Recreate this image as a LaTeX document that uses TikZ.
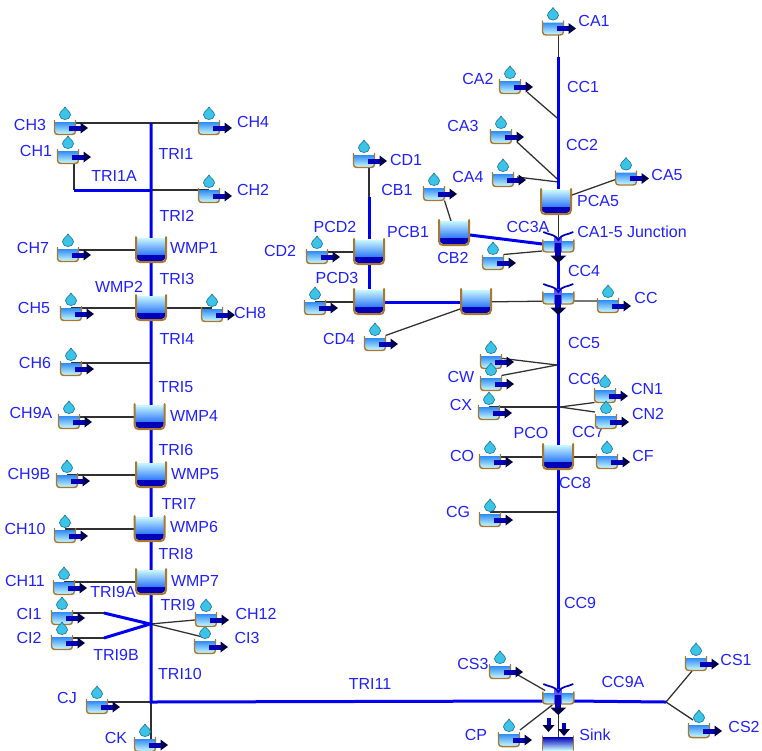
\documentclass[tikz,border=0pt]{standalone}
\usepackage{fontspec}
\setmainfont{Liberation Sans}
\usetikzlibrary{calc}
\pgfdeclarelayer{front}
\pgfsetlayers{main,front}
\definecolor{rivblue}{HTML}{0000F0}
\definecolor{thinline}{HTML}{303030}
\definecolor{lblblue}{HTML}{2020FF}
\definecolor{basinedge}{HTML}{A87830}
\definecolor{navyb}{HTML}{0000B8}
\definecolor{lightb}{HTML}{C8F8FF}
\definecolor{midb}{HTML}{2F8CF5}
\definecolor{dropc}{HTML}{3CC4E8}
\definecolor{dropd}{HTML}{207898}
\tikzset{
 x=0.75pt,y=-0.75pt,
 river/.style={draw=rivblue,line width=2.25pt},
 thin link/.style={draw=thinline,line width=0.95pt},
 lbl/.style={text=lblblue,font=\fontsize{12}{14}\selectfont,inner sep=0pt},
 catchbox/.style={minimum width=15.75pt,minimum height=11.25pt,inner sep=0pt,outer sep=0pt},
 resbox/.style={minimum width=24pt,minimum height=19.5pt,inner sep=0pt,outer sep=0pt},
 edge line/.style={draw=basinedge,line width=1.1pt,line cap=round,line join=round},
}
% catchment icon: name, drop x, drop y
\newcommand\catch[3]{%
 \begin{pgfonlayer}{front}
 \begin{scope}[shift={(#2,#3+14)}]
  \node[catchbox] (#1) at (0,0) {};
  \shade[top color=midb,bottom color=lightb] (-10,-5) -- (-10,4) -- (-7,7) -- (7,7) -- (10,4) -- (10,-5) -- cycle;
  \draw[edge line] (-10.5,-6.5) -- (-10.5,4) .. controls (-10.5,6.5) and (-9,7.5) .. (-7,7.5) -- (7,7.5) .. controls (9,7.5) and (10.5,6.5) .. (10.5,4) -- (10.5,-6.5);
  \draw[fill=dropc,draw=dropd,line width=0.5pt] (0,-20) .. controls (-1,-17.5) and (-5.5,-15.5) .. (-5.5,-12) .. controls (-5.5,-9) and (-2.5,-7.5) .. (0,-7.5) .. controls (2.5,-7.5) and (5.5,-9) .. (5.5,-12) .. controls (5.5,-15.5) and (1,-17.5) .. (0,-20) -- cycle;
  \fill[navyb] (4,-1.5) rectangle (17,3.5);
  \fill[black!60!navyb] (15.5,-4.5) -- (23,1) -- (15.5,6.5) -- cycle;
 \end{scope}
 \end{pgfonlayer}}
% reservoir icon: name, centre x, centre y
\newcommand\resv[3]{%
 \begin{pgfonlayer}{front}
 \begin{scope}[shift={(#2,#3)}]
  \node[resbox] (#1) at (0,0) {};
  \shade[top color=lightb,middle color=midb!60!cyan!80!white,bottom color=midb!80!blue] (-14,-12) rectangle (14,6);
  \fill[navyb] (-14,5) -- (14,5) -- (14,9) -- (11,11) -- (-11,11) -- (-14,9) -- cycle;
  \draw[edge line,line width=1.5pt] (-15,-13) -- (-15,8) .. controls (-15,11) and (-13,12) .. (-11,12) -- (11,12) .. controls (13,12) and (15,11) .. (15,8) -- (15,-13);
 \end{scope}
 \end{pgfonlayer}}
% junction icon: name, centre x, centre y
\newcommand\junc[3]{%
 \begin{pgfonlayer}{front}
 \begin{scope}[shift={(#2,#3)}]
  \node[catchbox,minimum width=24pt] (#1) at (0,0) {};
  \shade[top color=midb,bottom color=lightb] (-15,-5) -- (-15,5) -- (15,5) -- (15,-5) -- cycle;
  \draw[edge line] (-15.5,-6) -- (-15.5,3) .. controls (-15.5,5) and (-14,6) .. (-12,6) -- (12,6) .. controls (14,6) and (15.5,5) .. (15.5,3) -- (15.5,-6);
  \fill[rivblue!65!white] (-4,-9) rectangle (4,6);
  \fill[navyb] (-3,-3) rectangle (3,11);
  \fill[black!60!navyb] (-8,9.5) -- (8,9.5) -- (0,17) -- cycle;
  \draw[navyb,line width=1.3pt] (-15,-14) .. controls (-9,-11) and (-3,-12) .. (0,-6) .. controls (3,-12) and (9,-11) .. (15,-14);
 \end{scope}
 \end{pgfonlayer}}
\newcommand\lab[3]{\node[lbl] (L#1) at (#2,#3) {#1};}
\begin{document}
\begin{tikzpicture}
\useasboundingbox (0,0) rectangle (762,750);
% catchments
\catch{CA1}{553}{13.5}\catch{CA2}{510}{72}\catch{CA3}{501}{122}\catch{CA4}{503}{165}\catch{CA5}{626}{163.5}
\catch{CH3}{65}{113}\catch{CH4}{209}{113}\catch{CH1}{68}{142}\catch{CH2}{209}{181}
\catch{CH7}{68}{240}\catch{CH5}{71}{299}\catch{CH8}{212}{300}\catch{CH6}{71}{354}
\catch{CH9A}{69}{407}\catch{CH9B}{67}{466}\catch{CH10}{65}{521}\catch{CH11}{64}{573}
\catch{CI1}{62}{603}\catch{CI2}{62}{628}\catch{CI3}{205}{632}\catch{CH12}{206}{605}
\catch{CJ}{97}{692}\catch{CK}{145}{730}
\catch{CD1}{364}{146}\catch{CB1}{434}{179}\catch{CD2}{317}{242}\catch{CDx}{315}{293}\catch{CD4}{375}{329}
\catch{CAx}{493}{248}\catch{CC}{608}{291}
\catch{CWa}{491}{347}\catch{CWb}{491}{369}\catch{CX}{489}{398}\catch{CN1}{605}{381}\catch{CN2}{606}{407}
\catch{CO}{490}{447}\catch{CF}{607}{447}\catch{CG}{490}{505}
\catch{CS3}{500}{657}\catch{CP}{509}{725}\catch{CS1}{696}{649}\catch{CS2}{699}{716}
% reservoirs
\resv{WMP1}{151}{250}\resv{WMP2}{151}{308}\resv{WMP4}{149.5}{417}\resv{WMP5}{151}{475}\resv{WMP6}{149.5}{529}\resv{WMP7}{151}{582}
\resv{PCD2}{369}{252}\resv{PCD3}{369}{302}\resv{PCB1}{454}{233}\resv{PCX}{476}{302}\resv{PCA5}{556}{202}\resv{PCO}{558}{457}
% junctions
\junc{J1}{558.3}{246}\junc{J2}{558.3}{298}\junc{J3}{558.3}{698}
% sink
\begin{pgfonlayer}{front}
 \node[resbox,minimum height=10pt] (Sink) at (558,743) {};
 \shade[top color=navyb,middle color=midb,bottom color=lightb] (543,737) rectangle (573,750);
 \draw[edge line] (542.5,750) -- (542.5,736) (573.5,750) -- (573.5,736);
 \fill[navyb] (546.5,718) rectangle (550.5,726);
 \fill[black!60!navyb] (542.5,725) -- (554.5,725) -- (548.5,732) -- cycle;
 \fill[navyb] (562,723) rectangle (566,730);
 \fill[black!60!navyb] (558,729) -- (570,729) -- (564,736) -- cycle;
\end{pgfonlayer}
% free junction points
\coordinate (ptA) at (558.3,119);
\coordinate (ptB) at (558.3,180);
\coordinate (ptC) at (558.3,182);
\coordinate (t0) at (151,123);
\coordinate (t1) at (151,190);
\coordinate (t1a) at (74,190);
\coordinate (t6) at (151,363);
\coordinate (tx) at (150,624);
\coordinate (ti1) at (104,613);
\coordinate (ti2) at (104,638);
\coordinate (tj) at (151,702);
\coordinate (j3w) at (545,701);
\coordinate (j3e) at (572,701);
\coordinate (j2y) at (558.3,301);
\coordinate (cw) at (557,365);
\coordinate (cx) at (558.3,407);
\coordinate (cn) at (560,407);
\coordinate (cg) at (558.3,512);
\coordinate (cs) at (666,702);
\coordinate (cd) at (369,197);
\coordinate (c0) at (558.3,57);
% thin links
\draw[thin link] (CH3 |- t0) -- (t0) -- (t0 -| CH4);
\draw[thin link] (t1a |- CH1) -- (t1a);
\draw[thin link] (t1) -- (t1 -| CH2);
\draw[thin link] (CH7 |- WMP1) -- (WMP1);
\draw[thin link] (CH5 |- WMP2) -- (WMP2) -- (WMP2 -| CH8);
\draw[thin link] (CH6 |- t6) -- (t6);
\draw[thin link] (CH9A |- WMP4) -- (WMP4);
\draw[thin link] (CH9B |- WMP5) -- (WMP5);
\draw[thin link] (CH10 |- WMP6) -- (WMP6);
\draw[thin link] (CH11 |- WMP7) -- (WMP7);
\draw[thin link] (CI1 |- ti1) -- (ti1);
\draw[thin link] (CI2 |- ti2) -- (ti2);
\draw[thin link] (tx) -- (CH12);
\draw[thin link] (tx) -- ($(CI3)+(-2,-9)$);
\draw[thin link] (CJ |- tj) -- (tj);
\draw[thin link] (tj) -- (tj |- CK);
\draw[thin link] (cd |- CD1) -- (cd);
\draw[thin link] (CB1.south east) -- ($(PCB1.north)+(-3,1)$);
\draw[thin link] (CD2 |- PCD2) -- (PCD2);
\draw[thin link] (CDx |- PCD3) -- (PCD3);
\draw[thin link] (PCX) -- (j2y) -- (j2y -| CC);
\draw[thin link] (CD4.north east) -- ($(PCX.west)+(0,7)$);
\draw[thin link] (c0 |- CA1) -- (c0);
\draw[thin link] ($(CA2)+(17,6)$) -- (ptA);
\draw[thin link] ($(CA3)+(16,6)$) -- (ptB);
\draw[thin link] ($(CA4)+(14,-2)$) -- (ptC);
\draw[thin link] ($(CA5.west)+(0,2)$) -- ($(PCA5.north east)+(0,6)$);
\draw[thin link] (J1 |- PCA5) -- (J1);
\draw[thin link] (CAx.north east) -- ($(J1.west)+(0,5)$);
\draw[thin link] ($(CWa)+(8,-3)$) -- (cw);
\draw[thin link] (CWb.north east) -- (cw);
\draw[thin link] (CX |- cx) -- (cx);
\draw[thin link] (cn) -- (CN1.south west);
\draw[thin link] (cn) -- ($(CN2)+(-11,-9)$);
\draw[thin link] (CO |- PCO) -- (PCO) -- (PCO -| CF);
\draw[thin link] (CG |- cg) -- (cg);
\draw[thin link] ($(CS3)+(18,4)$) -- (J3);
\draw[thin link] ($(CP)+(11,-9)$) -- ($(J3)+(-6,7)$);
\draw[thin link] (J3) -- (J3 |- Sink);
\draw[thin link] (cs) -- ($(CS1)+(-4,8)$);
\draw[thin link] (cs) -- ($(CS2)+(-6,-10)$);
% rivers
\draw[river] (t0) -- (t0 |- tj) -- (j3w);
\draw[river] (t1a) -- (t1);
\draw[river] (ti1) -- (tx) (ti2) -- (tx);
\draw[river] (cd) -- (PCD2) -- (PCD3) -- (PCX);
\draw[river] (PCB1) -- (J1);
\draw[river] (c0) -- (c0 |- PCA5.north);
\draw[river] (J1) -- (J3);
\draw[river] (j3e) -- (cs);
% labels
\lab{CA1}{594}{21}\lab{CA2}{478}{79}\lab{CC1}{583}{87}\lab{CA3}{463}{126}\lab{CC2}{582}{145}
\lab{CA4}{468}{177}\lab{CA5}{667}{175}\lab{PCA5}{598}{201}\lab{CC3A}{528}{227}
\node[lbl] (LJ1) at (632,232) {CA1-5 Junction};
\lab{CC4}{584}{271}\lab{CC}{646}{298}\lab{CC5}{584}{343}\lab{CC6}{584}{379}\lab{CC7}{588}{432}
\lab{PCO}{531}{433}\lab{CC8}{575}{483}\lab{CC9}{580}{603}\lab{CC9A}{623}{682}\lab{TRI11}{370}{684}
\lab{Sink}{595}{735}\lab{CD1}{406}{160}\lab{CB1}{397}{190}\lab{PCD2}{335}{227}\lab{PCB1}{408}{232}
\lab{CB2}{453}{258}\lab{PCD3}{337}{278}\lab{CD2}{280}{251}\lab{CD4}{339}{339}
\lab{CW}{461}{377}\lab{CX}{461}{405}\lab{CN1}{647}{389}\lab{CN2}{648}{414}\lab{CO}{462}{456}\lab{CF}{643}{456}
\lab{CG}{458}{512}\lab{CS3}{473}{664}\lab{CP}{476}{735}\lab{CS1}{736}{660}\lab{CS2}{744}{727}
\lab{CH3}{30}{125}\lab{CH4}{253}{122}\lab{TRI1}{176}{154}\lab{CH1}{36}{151}\lab{TRI1A}{114}{176}
\lab{CH2}{253}{190}\lab{TRI2}{177}{216}\lab{CH7}{33}{248}\lab{WMP1}{194}{248}\lab{TRI3}{177}{279}
\lab{WMP2}{119}{287}\lab{CH5}{34}{308}\lab{CH8}{250}{313}\lab{TRI4}{177}{339}\lab{CH6}{35}{363}
\lab{TRI5}{176}{387}\lab{CH9A}{31}{413}\lab{WMP4}{194}{416}\lab{TRI6}{176}{450}\lab{CH9B}{29}{474}
\lab{WMP5}{195}{474}\lab{TRI7}{179}{504}\lab{CH10}{25}{529}\lab{WMP6}{194}{527}\lab{TRI8}{176}{554}
\lab{CH11}{25}{581}\lab{WMP7}{195}{581}\lab{TRI9A}{113}{592}\lab{TRI9}{178}{605}\lab{CH12}{256}{614}
\lab{CI1}{29}{614}\lab{CI2}{29}{638}\lab{CI3}{247}{638}\lab{TRI9B}{116}{655}\lab{TRI10}{180}{674}
\lab{CJ}{67}{698}\lab{CK}{116}{738}
\end{tikzpicture}
\end{document}
